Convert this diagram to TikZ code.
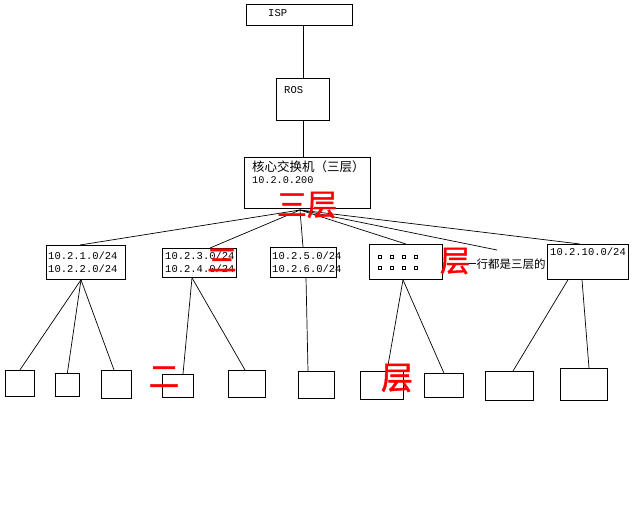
\documentclass[tikz,border=0pt]{standalone}
\usepackage{fontspec}
\newfontfamily\monofnt{Liberation Mono}
\newfontfamily\cjkfnt{Noto Sans CJK SC}
\newfontfamily\cjkred{Noto Sans CJK SC}[FakeBold=1.5]
\tikzset{
  box/.style={draw, line width=0.8pt, inner sep=0pt, fill=white},
  conn/.style={line width=0.7pt},
  mtxt/.style={font=\monofnt\fontsize{10.5}{13}\selectfont, inner sep=0pt, anchor=west, align=left},
  ctxt/.style={font=\cjkfnt\fontsize{11.5}{13}\selectfont, inner sep=0pt, anchor=west},
  redtxt/.style={font=\cjkred\fontsize{30}{30}\selectfont, text=red, inner sep=0pt},
}
\newcommand\mybox[5]{\node[box,anchor=north west,minimum width={(#4-#2)*1pt},minimum height={(#5-#3)*1pt}] (#1) at (#2,#3) {};}
\begin{document}
\begin{tikzpicture}[x=1pt,y=-1pt]
\useasboundingbox[fill=white] (0,0) rectangle (640,512);
% top chain
\mybox{isp}{246}{4}{352}{25}
\mybox{ros}{276}{78}{329}{120}
\mybox{core}{244}{157}{370}{208}
\node[mtxt] (ispt) at (268,13) {ISP};
\node[mtxt] (rost) at (284,90) {ROS};
\node[ctxt,font=\cjkfnt\fontsize{12.5}{14}\selectfont] (coret1) at (252,167) {核心交换机（三层）};
\node[mtxt,font=\monofnt\fontsize{10.2}{13}\selectfont] (coret2) at (252,180) {10.2.0.200};
\draw[conn] (ros.north) -- (ros.north |- isp.south);
\draw[conn] (ros.south) -- (ros.south |- core.north);
% second level
\mybox{B1}{46}{245}{125}{279}
\mybox{B2}{162}{248}{236}{277}
\mybox{B3}{270}{247}{336}{277}
\mybox{B4}{369}{244}{442}{279}
\mybox{B5}{547}{244}{628}{279}
\node[mtxt] (B1t) at (48,262) {10.2.1.0/24\\10.2.2.0/24};
\node[mtxt] (B2t) at (165,262) {10.2.3.0/24\\10.2.4.0/24};
\node[mtxt] (B3t) at (272,262) {10.2.5.0/24\\10.2.6.0/24};
\node[mtxt] (B5t) at (550,252) {10.2.10.0/24};
\foreach \xx in {380,392,404,416}{
  \foreach \yy in {257,268}{
    \draw[line width=0.8pt] (\xx-1.2,\yy-1.2) rectangle (\xx+1.2,\yy+1.2);
  }
}
\node[ctxt] (note) at (465,264) {一行都是三层的};
\coordinate (fan) at (300,210);
\coordinate (noteend) at (497,250);
\draw[conn] (fan) -- ([xshift=34pt]B1.north west);
\draw[conn] (fan) -- ([xshift=48pt]B2.north west);
\draw[conn] (fan) -- ([xshift=33pt]B3.north west);
\draw[conn] (fan) -- (B4.north);
\draw[conn] (fan) -- (noteend);
\draw[conn] (fan) -- ([xshift=33pt]B5.north west);
% bottom level
\mybox{b1}{5}{370}{34}{396}
\mybox{b2}{55}{373}{79}{396}
\mybox{b3}{101}{370}{131}{398}
\mybox{b4}{162}{374}{193}{397}
\mybox{b5}{228}{370}{265}{397}
\mybox{b6}{298}{371}{334}{398}
\mybox{b7}{360}{371}{403}{399}
\mybox{b8}{424}{373}{463}{397}
\mybox{b9}{485}{371}{533}{400}
\mybox{b10}{560}{368}{607}{400}
\draw[conn] ([xshift=35pt]B1.south west) -- (b1.north);
\draw[conn] ([xshift=35pt]B1.south west) -- (b2.north);
\draw[conn] ([xshift=35pt]B1.south west) -- ([xshift=13pt]b3.north west);
\draw[conn] ([xshift=30pt]B2.south west) -- ([xshift=21pt]b4.north west);
\draw[conn] ([xshift=30pt]B2.south west) -- ([xshift=17pt]b5.north west);
\draw[conn] ([xshift=36pt]B3.south west) -- ([xshift=10pt]b6.north west);
\draw[conn] ([xshift=34pt]B4.south west) -- ([xshift=27pt]b7.north west);
\draw[conn] ([xshift=34pt]B4.south west) -- (b8.north);
\draw[conn] ([xshift=21pt]B5.south west) -- ([xshift=28pt]b9.north west);
\draw[conn] ([xshift=35pt]B5.south west) -- ([xshift=29pt]b10.north west);
% red annotations
\node[redtxt] (r1) at (307,205) {三层};
\node[redtxt] (r2) at (222,260) {三};
\node[redtxt] (r3) at (455,261) {层};
\node[redtxt] (r4) at (164,377) {二};
\node[redtxt,font=\cjkred\fontsize{32}{32}\selectfont] (r5) at (397,378) {层};
\end{tikzpicture}
\end{document}
